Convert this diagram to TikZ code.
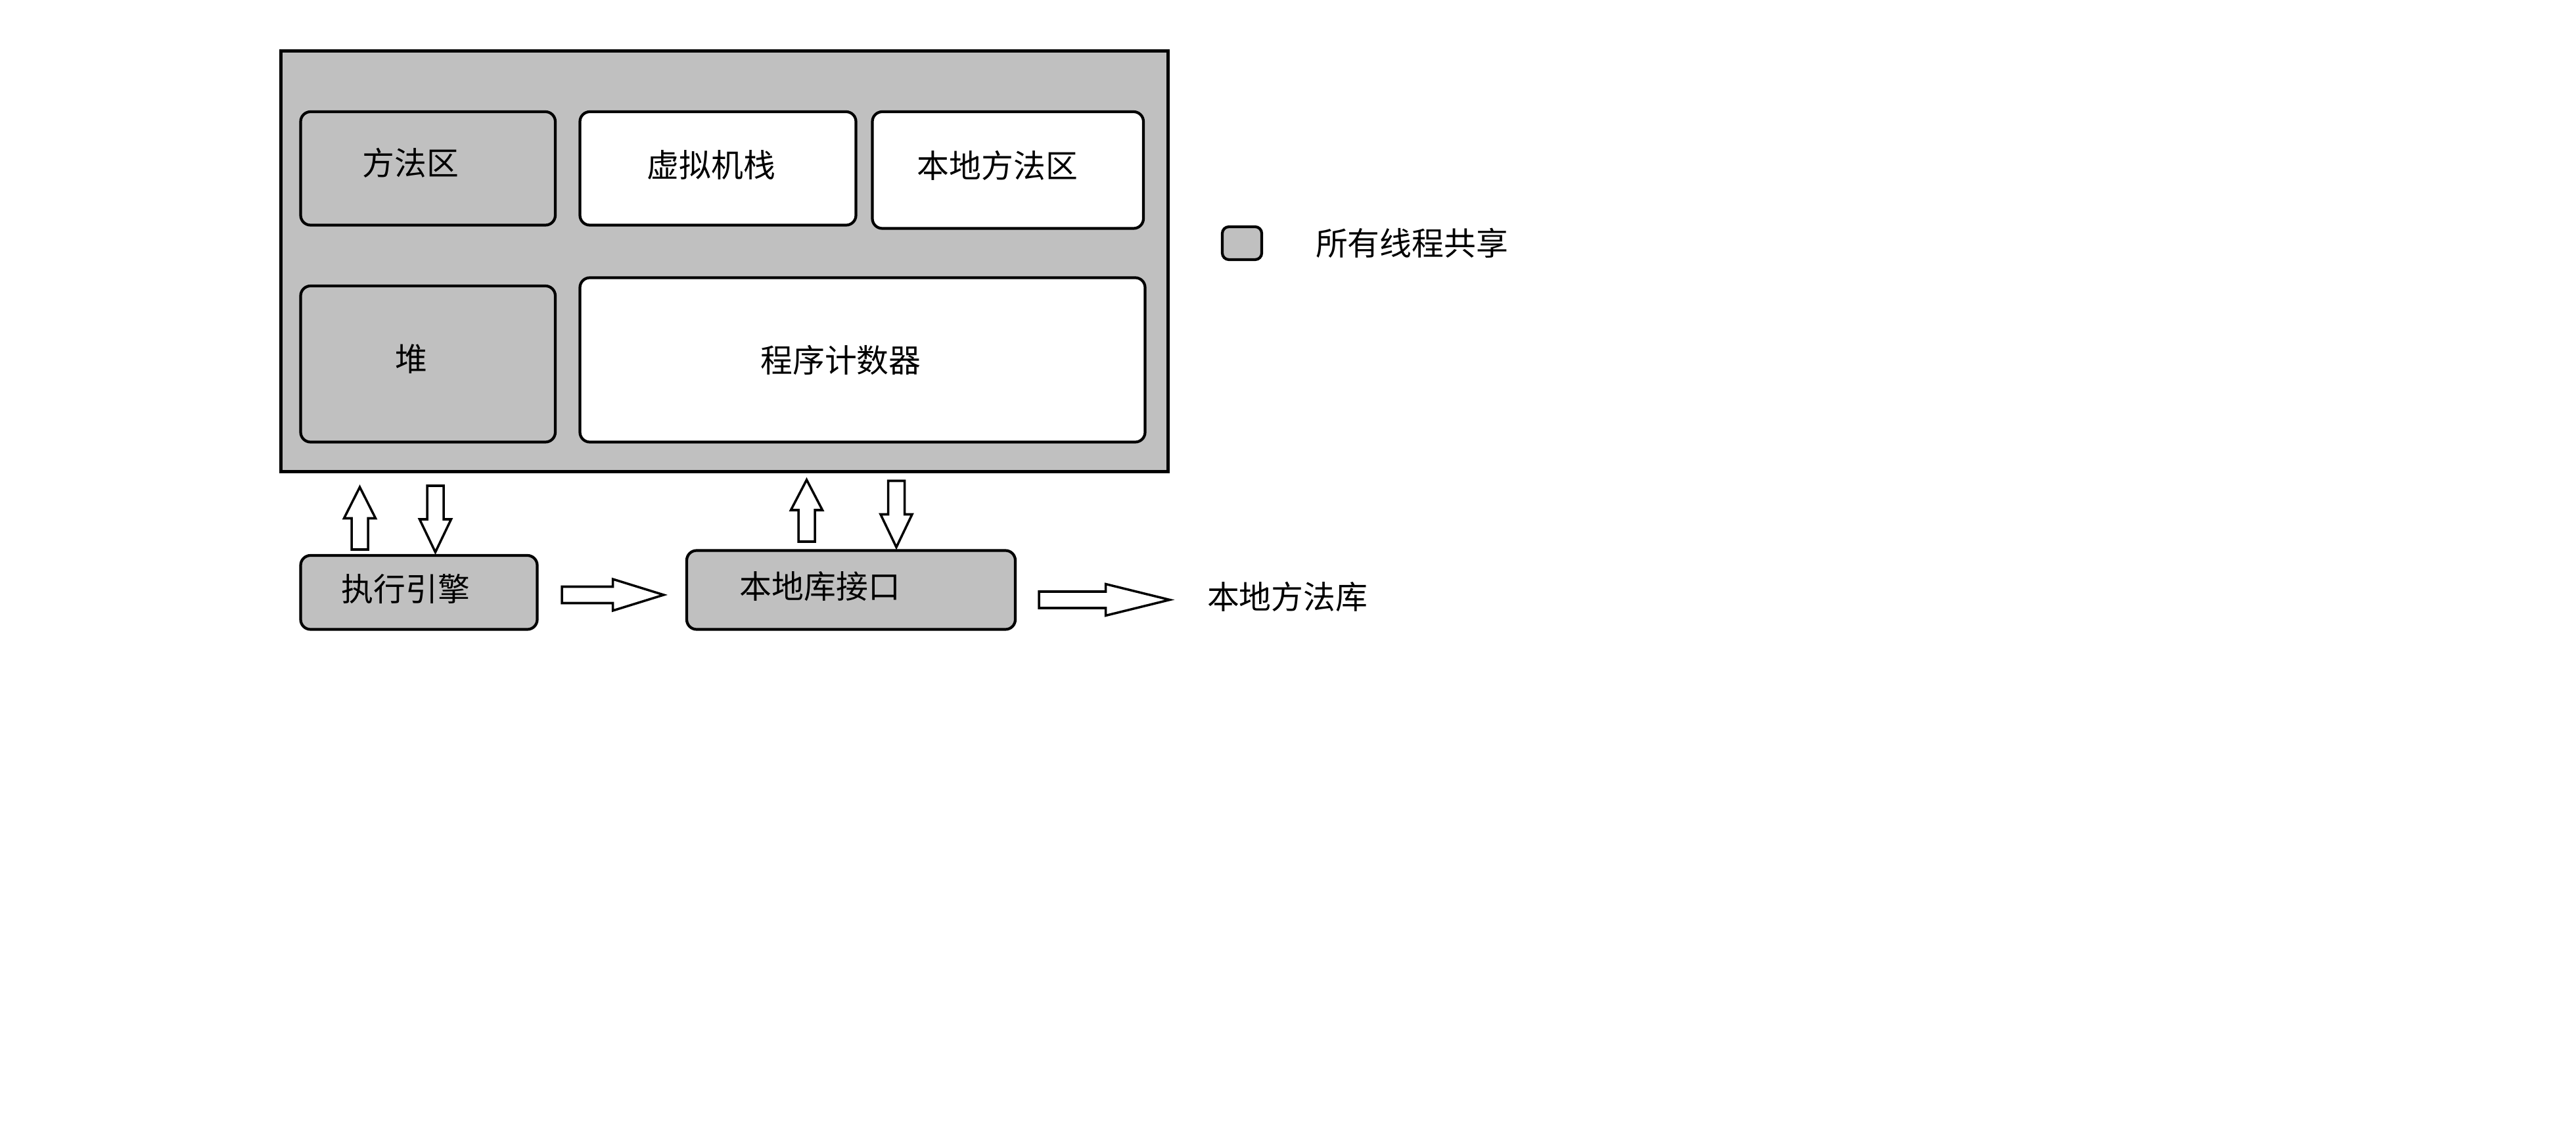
\documentclass[tikz,border=0pt]{standalone}
\usepackage{fontspec}
\setmainfont{Noto Sans CJK SC}
\usepackage{tikz}
\definecolor{shared}{HTML}{C0C0C0}

% hollow block arrow: length / head length
\tikzset{
  pics/hollow arrow/.style args={#1/#2}{code={
    \draw[line width=1pt, fill=white, line join=miter]
      (0,-0.125) -- (#1-#2,-0.125) -- (#1-#2,-0.24) -- (#1,0)
      -- (#1-#2,0.24) -- (#1-#2,0.125) -- (0,0.125) -- cycle;
  }}
}

\begin{document}
\begin{tikzpicture}[font=\fontsize{13.9}{16}\selectfont, line width=1.2pt,
  box/.style={draw, rounded corners=0.15cm, inner sep=0pt},
  sharedbox/.style={box, fill=shared},
  privbox/.style={box, fill=white},
  txt/.style args={#1/#2/#3}{label={[xshift=#1cm, yshift=#2cm]center:#3}}]
  \path[fill=white, use as bounding box] (0,0) rectangle (39.2,-17.125);

  % runtime data area
  \node[draw, fill=shared, inner sep=0pt, minimum width=13.5cm, minimum height=6.4cm] (jvm) at (11.025,-3.975) {};
  \node[sharedbox, minimum width=3.875cm, minimum height=1.725cm, txt=-0.26/0.08/方法区] (methodarea) at (6.5125,-2.5625) {};
  \node[privbox, minimum width=4.2cm, minimum height=1.725cm, txt=-0.1/0.05/虚拟机栈] (vmstack) at (10.925,-2.5625) {};
  \node[privbox, minimum width=4.125cm, minimum height=1.775cm, txt=-0.16/0.07/本地方法区] (nativestack) at (15.3375,-2.5875) {};
  \node[sharedbox, minimum width=3.875cm, minimum height=2.375cm, txt=-0.25/0.08/堆] (heap) at (6.5125,-5.5375) {};
  \node[privbox, minimum width=8.6cm, minimum height=2.5cm, txt=-0.33/0/程序计数器] (pc) at (13.125,-5.475) {};

  % legend
  \node[sharedbox, rounded corners=0.1cm, minimum width=0.6cm, minimum height=0.5cm] (legend) at (18.9,-3.7) {};
  \node[anchor=west, inner sep=0pt] (legendtext) at (20.0,-3.7) {所有线程共享};

  % engine and native interface
  \node[sharedbox, minimum width=3.6cm, minimum height=1.125cm, txt=-0.2/0.05/执行引擎] (engine) at (6.375,-9.0125) {};
  \node[sharedbox, minimum width=5.0cm, minimum height=1.2cm, txt=-0.47/0.05/本地库接口] (native) at (12.95,-8.975) {};
  \node[anchor=west, inner sep=0pt] (nativelib) at (18.35,-9.075) {本地方法库};

  % block arrows
  \pic[rotate=90] at (5.475,-8.36) {hollow arrow=0.95/0.475};
  \pic[rotate=-90] at (6.625,-7.39) {hollow arrow=1.01/0.5};
  \pic[rotate=90] at (12.275,-8.24) {hollow arrow=0.94/0.46};
  \pic[rotate=-90] at (13.64,-7.315) {hollow arrow=1.01/0.5};
  \pic at (8.55,-9.05) {hollow arrow=1.55/0.775};
  \pic at (15.81,-9.125) {hollow arrow=1.99/0.975};
\end{tikzpicture}
\end{document}
